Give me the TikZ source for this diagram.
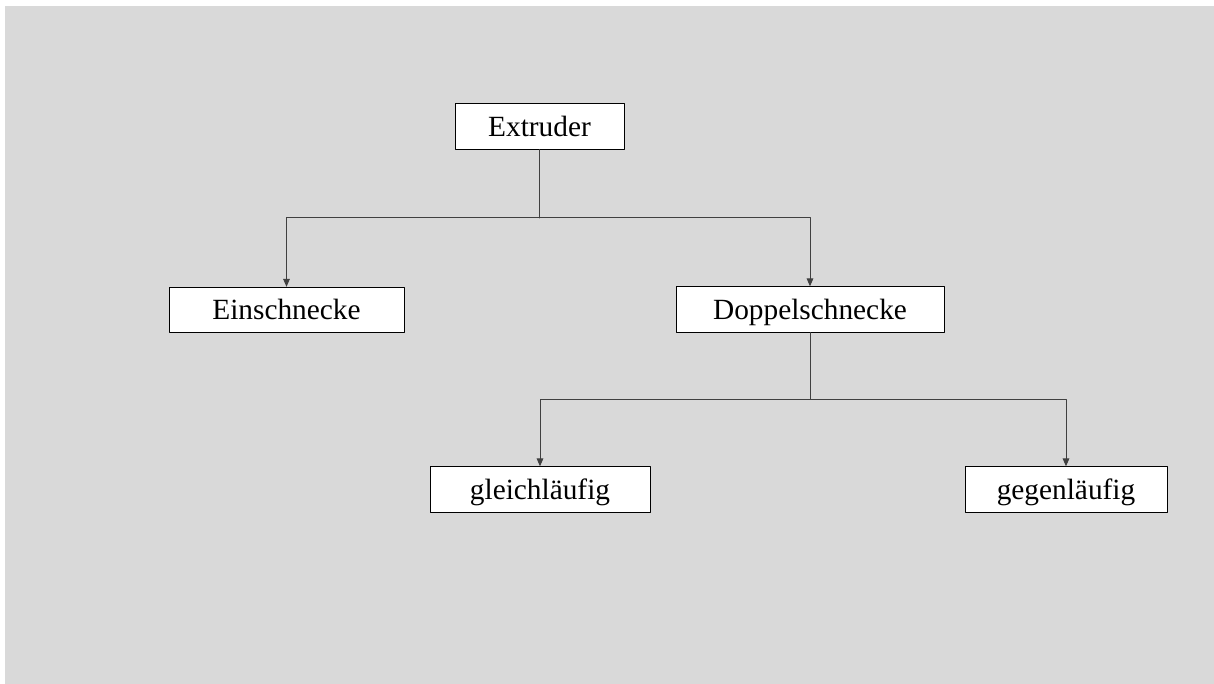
\documentclass[tikz,border=0pt]{standalone}
\usepackage{fontspec}
\setmainfont{Liberation Serif}
\usetikzlibrary{arrows.meta}
\definecolor{bggray}{HTML}{D9D9D9}
\definecolor{linegray}{HTML}{404040}
\begin{document}
\begin{tikzpicture}[x=0.75pt,y=-0.75pt,line cap=round,line join=round,
  box/.style={draw=black,fill=white,line width=0.75pt,inner sep=0pt,
    text height=16pt,text depth=1pt,
    minimum height=34pt,font=\fontsize{22}{26}\selectfont},
  arr/.style={draw=linegray,line width=0.75pt,-{Triangle[length=6pt,width=5pt]}}]
\useasboundingbox (0,0) rectangle (1214,684);
\fill[white] (0,0) rectangle (1214,684);
\fill[bggray] (5,6) rectangle (1214,684);
\foreach \n/\x/\y/\w/\t in {ext/539.5/126.5/169/Extruder,
  ein/286.5/310/235/Einschnecke,
  dop/810/309.5/268/Doppelschnecke,
  gle/540/489.5/220/gleichläufig,
  geg/1066/489.5/202/gegenläufig}
\node[box,minimum width=\w*0.75pt] (\n) at (\x,\y) {\t};
\path
(539.5,218) coordinate (j1)
(810,399) coordinate (j2)
;
\draw[linegray,line width=0.75pt] (ext)--(j1);
\draw[arr] (j1)-|(ein);
\draw[arr] (j1)-|(dop);
\draw[linegray,line width=0.75pt] (dop)--(j2);
\draw[arr] (j2)-|(gle);
\draw[arr] (j2)-|(geg);
\end{tikzpicture}
\end{document}
